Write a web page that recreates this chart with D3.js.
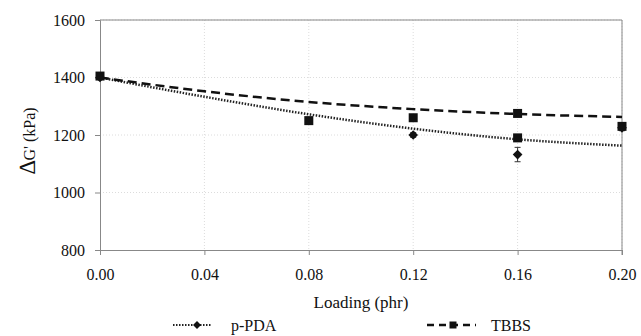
<!DOCTYPE html>
<html>
<head>
<meta charset="utf-8">
<script src="https://cdn.jsdelivr.net/npm/d3@7"></script>
<style>
  body { margin: 0; background: #fff; }
  svg text { font-family: "Liberation Serif", serif; }
</style>
</head>
<body>
<div id="chart"></div>
<script>
// measured points (loading in phr, dG' in kPa)
const ppdaPoints = [[0, 1400], [0.12, 1200], [0.16, 1132], [0.20, 1225]];
const tbbsPoints = [[0, 1405], [0.08, 1250], [0.12, 1260], [0.16, 1275], [0.16, 1190], [0.20, 1230]];
const ppdaErr = [0, 8, 25, 10];
const tbbsErr = [10, 8, 10, 10, 10, 12];

// trend lines at each x tick
const trendX = [0, 0.04, 0.08, 0.12, 0.16, 0.20];
const ppdaTrend = [1400, 1333, 1272, 1222, 1185, 1163];
const tbbsTrend = [1400, 1352, 1315, 1290, 1273, 1263];

const xTicks = [0, 0.04, 0.08, 0.12, 0.16, 0.20];
const yTicks = [800, 1000, 1200, 1400, 1600];

const width = 641, height = 336;
const margin = {top: 20, right: 19, bottom: 86, left: 100};

const svg = d3.select("#chart").append("svg")
    .attr("width", width)
    .attr("height", height);

const x = d3.scaleLinear().domain([0, 0.2]).range([margin.left, width - margin.right]);
const y = d3.scaleLinear().domain([800, 1600]).range([height - margin.bottom, margin.top]);

// grid
svg.append("g")
    .attr("stroke", "#dcdcdc")
    .attr("stroke-dasharray", "1,2")
    .selectAll("line")
    .data(yTicks.slice(1))
    .join("line")
    .attr("x1", margin.left).attr("x2", width - margin.right)
    .attr("y1", d => y(d)).attr("y2", d => y(d));

svg.append("g")
    .attr("stroke", "#dcdcdc")
    .attr("stroke-dasharray", "1,2")
    .selectAll("line")
    .data(xTicks.slice(1))
    .join("line")
    .attr("x1", d => x(d)).attr("x2", d => x(d))
    .attr("y1", margin.top).attr("y2", height - margin.bottom);

// axes
const xAxis = svg.append("g")
    .attr("transform", `translate(0,${height - margin.bottom})`)
    .call(d3.axisBottom(x).tickValues(xTicks).tickFormat(d3.format(".2f")).tickSizeOuter(0).tickSize(5).tickPadding(14));
const yAxis = svg.append("g")
    .attr("transform", `translate(${margin.left},0)`)
    .call(d3.axisLeft(y).tickValues(yTicks).tickFormat(d3.format("d")).tickSizeOuter(0).tickSize(5).tickPadding(10));

[xAxis, yAxis].forEach(a => {
    a.attr("font-family", null).attr("font-size", 16);
    a.selectAll("path, line").attr("stroke", "#888");
    a.selectAll("text").attr("fill", "#111");
});

// top and right frame
svg.append("line")
    .attr("x1", margin.left).attr("x2", width - margin.right)
    .attr("y1", margin.top).attr("y2", margin.top)
    .attr("stroke", "#888");
svg.append("line")
    .attr("x1", width - margin.right).attr("x2", width - margin.right)
    .attr("y1", margin.top).attr("y2", height - margin.bottom + 5)
    .attr("stroke", "#888");

// trend lines
const line = d3.line().curve(d3.curveMonotoneX);
svg.append("path")
    .datum(trendX.map((v, i) => [x(v), y(ppdaTrend[i])]))
    .attr("d", line)
    .attr("fill", "none")
    .attr("stroke", "#222")
    .attr("stroke-width", 2.5)
    .attr("stroke-dasharray", "1.5,1.5");
svg.append("path")
    .datum(trendX.map((v, i) => [x(v), y(tbbsTrend[i])]))
    .attr("d", line)
    .attr("fill", "none")
    .attr("stroke", "#111")
    .attr("stroke-width", 2.5)
    .attr("stroke-dasharray", "9,5");

// error bars
function errBars(points, errs) {
    const g = svg.append("g").attr("stroke", "#333").attr("stroke-width", 1);
    points.forEach((p, i) => {
        const cx = x(p[0]);
        g.append("line").attr("x1", cx).attr("x2", cx).attr("y1", y(p[1] - errs[i])).attr("y2", y(p[1] + errs[i]));
        g.append("line").attr("x1", cx - 3).attr("x2", cx + 3).attr("y1", y(p[1] - errs[i])).attr("y2", y(p[1] - errs[i]));
        g.append("line").attr("x1", cx - 3).attr("x2", cx + 3).attr("y1", y(p[1] + errs[i])).attr("y2", y(p[1] + errs[i]));
    });
}
errBars(ppdaPoints, ppdaErr);
errBars(tbbsPoints, tbbsErr);

// markers
svg.append("g").selectAll("path")
    .data(ppdaPoints)
    .join("path")
    .attr("transform", d => `translate(${x(d[0])},${y(d[1])})`)
    .attr("d", d3.symbol(d3.symbolDiamond2, 60))
    .attr("fill", "#111");
svg.append("g").selectAll("rect")
    .data(tbbsPoints)
    .join("rect")
    .attr("x", d => x(d[0]) - 4.5)
    .attr("y", d => y(d[1]) - 4.5)
    .attr("width", 9).attr("height", 9)
    .attr("fill", "#111");

// axis titles
svg.append("text")
    .attr("x", (margin.left + width - margin.right) / 2)
    .attr("y", 308)
    .attr("text-anchor", "middle")
    .attr("font-size", 17)
    .attr("fill", "#111")
    .text("Loading (phr)");

const yt = svg.append("text")
    .attr("transform", "translate(35,141) rotate(-90)")
    .attr("text-anchor", "middle")
    .attr("fill", "#111")
    .attr("font-size", 16);
yt.append("tspan").attr("font-size", 23).text("\u2206");
yt.append("tspan").text("G' (kPa)");

// legend
const legend = svg.append("g").attr("transform", "translate(0,325)");
legend.append("line").attr("x1", 173).attr("x2", 212).attr("y1", 0).attr("y2", 0)
    .attr("stroke", "#222").attr("stroke-width", 2).attr("stroke-dasharray", "1.5,1.5");
legend.append("path").attr("transform", "translate(197,0)")
    .attr("d", d3.symbol(d3.symbolDiamond2, 40)).attr("fill", "#111");
legend.append("text").attr("x", 231).attr("y", 6).attr("font-size", 16).attr("fill", "#111").text("p-PDA");

legend.append("line").attr("x1", 427).attr("x2", 476).attr("y1", 0).attr("y2", 0)
    .attr("stroke", "#111").attr("stroke-width", 2.5).attr("stroke-dasharray", "7,5");
legend.append("rect").attr("x", 449.5).attr("y", -3.5).attr("width", 7).attr("height", 7).attr("fill", "#111");
legend.append("text").attr("x", 491).attr("y", 6).attr("font-size", 16).attr("fill", "#111").text("TBBS");
</script>
</body>
</html>
